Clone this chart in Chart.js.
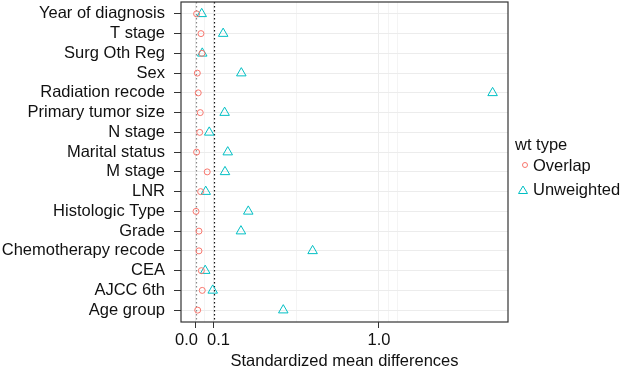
<!DOCTYPE html>
<html>
<head>
<meta charset="utf-8">
<script src="https://cdn.jsdelivr.net/npm/chart.js@4"></script>
<style>
  html, body { margin: 0; padding: 0; background: #fff; }
  #wrap { width: 622px; height: 373px; }
</style>
</head>
<body>
<div id="wrap"><canvas id="graph_smd"></canvas></div>
<script>
/* data */
var covariates = ['Year of diagnosis', 'T stage', 'Surg Oth Reg', 'Sex', 'Radiation recode',
  'Primary tumor size', 'N stage', 'Marital status', 'M stage', 'LNR', 'Histologic Type',
  'Grade', 'Chemotherapy recode', 'CEA', 'AJCC 6th', 'Age group']
var overlap = [0.005, 0.029, 0.034, 0.009, 0.014, 0.025, 0.022, 0.005, 0.063, 0.027, 0.002,
  0.018, 0.018, 0.031, 0.036, 0.011]
var unweighted = [0.033, 0.15, 0.036, 0.249, 1.62, 0.158, 0.074, 0.175, 0.16, 0.055, 0.287,
  0.247, 0.638, 0.052, 0.093, 0.478]
var xTicks = [0, 0.1, 1.0]
var xTickLabels = ['0.0    ', '  0.1', '1.0']
var xMinor = [0.05, 0.55, 1.05, 1.1]
var refLines = [0, 0.1]

var RED = '#F8766D'
var TEAL = '#00BFC4'
var FONT = '"Liberation Sans", Arial, Helvetica, sans-serif'

function toPoints(vals) {
  return vals.map(function (v, i) { return { x: v, y: i } })
}

/* panel box, dotted reference lines, legend */
var extras = {
  id: 'extras',
  beforeDatasetsDraw: function (chart) {
    var c = chart.ctx, a = chart.chartArea, xs = chart.scales.x
    c.save()
    c.lineWidth = 1.2
    c.setLineDash([1.5, 2.5])
    refLines.forEach(function (v, i) {
      var px = Math.round(xs.getPixelForValue(v)) + 0.5
      c.strokeStyle = i === 0 ? '#888' : '#111'
      c.beginPath()
      c.moveTo(px, a.top)
      c.lineTo(px, a.bottom)
      c.stroke()
    })
    c.restore()
  },
  afterDraw: function (chart) {
    var c = chart.ctx, a = chart.chartArea
    c.save()
    c.strokeStyle = '#333'
    c.lineWidth = 1.2
    c.strokeRect(a.left, a.top, a.right - a.left, a.bottom - a.top)

    c.font = '16.5px ' + FONT
    c.fillStyle = '#111'
    c.textBaseline = 'middle'
    c.fillText('wt type', 515, 145)
    c.fillText('Overlap', 533, 166)
    c.fillText('Unweighted', 533, 190)

    c.lineWidth = 1
    c.strokeStyle = RED
    c.beginPath()
    c.arc(525, 165, 2.5, 0, Math.PI * 2)
    c.stroke()
    c.strokeStyle = TEAL
    c.beginPath()
    c.moveTo(523, 186)
    c.lineTo(527.5, 193.5)
    c.lineTo(518.5, 193.5)
    c.closePath()
    c.stroke()
    c.restore()
  }
}

var ctx_smd = document.getElementById('graph_smd').getContext('2d')

var data_smd = {
  datasets: [{
    label: 'Unweighted',
    data: toPoints(unweighted),
    pointStyle: 'triangle',
    pointRadius: 5.5,
    pointHoverRadius: 5.5,
    borderColor: TEAL,
    backgroundColor: 'rgba(0,0,0,0)',
    pointBorderWidth: 1,
    order: 2
  }, {
    label: 'Overlap',
    data: toPoints(overlap),
    pointStyle: 'circle',
    pointRadius: 3,
    pointHoverRadius: 3,
    borderColor: RED,
    backgroundColor: 'rgba(0,0,0,0)',
    pointBorderWidth: 1,
    order: 1
  }]
}

var config_smd = {
  type: 'scatter',
  data: data_smd,
  plugins: [extras],
  options: {
    responsive: true,
    maintainAspectRatio: false,
    animation: false,
    layout: { autoPadding: false, padding: { top: 2, right: 114, left: 0, bottom: 0 } },
    plugins: {
      legend: { display: false },
      tooltip: { enabled: false }
    },
    scales: {
      x: {
        type: 'linear',
        min: -0.08,
        max: 1.704,
        afterBuildTicks: function (scale) {
          scale.ticks = xTicks.concat(xMinor).map(function (v) { return { value: v } })
        },
        afterFit: function (scale) {
          scale.height = 51
          scale.paddingLeft = 0
          scale.paddingRight = 0
        },
        border: { display: false },
        grid: {
          color: function (c) {
            return xTicks.indexOf(c.tick.value) >= 0 ? '#ececec' : '#f4f4f4'
          },
          tickColor: function (c) {
            return xTicks.indexOf(c.tick.value) >= 0 ? '#333' : 'rgba(0,0,0,0)'
          },
          tickLength: 6,
          lineWidth: 1
        },
        ticks: {
          autoSkip: false,
          maxRotation: 0,
          padding: 3,
          color: '#111',
          font: { family: FONT, size: 16.5 },
          callback: function (v) {
            var k = xTicks.indexOf(v)
            return k >= 0 ? xTickLabels[k] : ''
          }
        },
        title: {
          display: true,
          text: 'Standardized mean differences',
          color: '#111',
          font: { family: FONT, size: 16.5 },
          padding: { top: 2, bottom: 2 }
        }
      },
      y: {
        type: 'linear',
        reverse: true,
        min: -0.6,
        max: covariates.length - 0.4,
        afterFit: function (scale) {
          scale.width = 181
          scale.paddingTop = 0
          scale.paddingBottom = 0
        },
        border: { display: false },
        grid: {
          color: '#ececec',
          tickColor: '#333',
          tickLength: 7,
          lineWidth: 1
        },
        ticks: {
          stepSize: 1,
          includeBounds: false,
          autoSkip: false,
          padding: 9,
          color: '#111',
          font: { family: FONT, size: 16.5 },
          callback: function (v) { return covariates[v] !== undefined ? covariates[v] : '' }
        }
      }
    }
  }
}

var graph_smd = new Chart(ctx_smd, config_smd)
</script>
</body>
</html>
